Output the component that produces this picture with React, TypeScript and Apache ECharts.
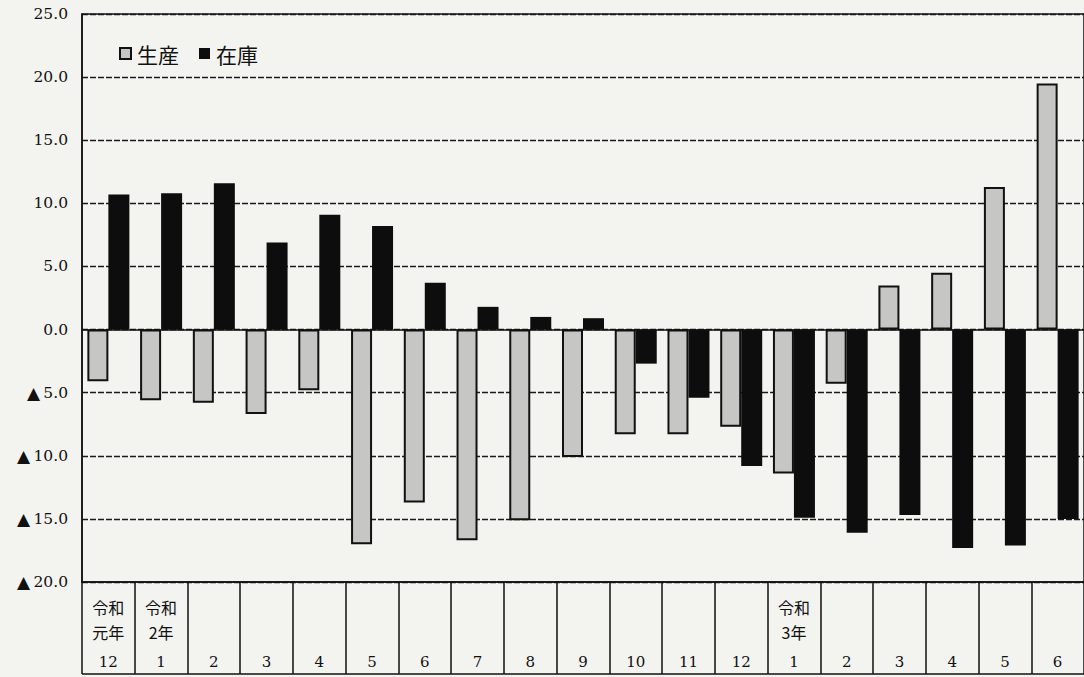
import React, { useEffect, useRef } from "react";
import * as echarts from "echarts";

const months = ["12", "1", "2", "3", "4", "5", "6", "7", "8", "9", "10", "11", "12", "1", "2", "3", "4", "5", "6"];
const eraLabels = ["令和\n元年", "令和\n2年", "", "", "", "", "", "", "", "", "", "", "", "令和\n3年", "", "", "", "", ""];
const seriesNames = ["生産", "在庫"];
const production = [-4.1, -5.6, -5.8, -6.7, -4.8, -17.0, -13.7, -16.7, -15.1, -10.1, -8.3, -8.3, -7.7, -11.4, -4.3, 3.5, 4.5, 11.3, 19.5];
const inventory = [10.7, 10.8, 11.6, 6.9, 9.1, 8.2, 3.7, 1.8, 1.0, 0.9, -2.7, -5.4, -10.8, -14.9, -16.1, -14.7, -17.3, -17.1, -15.0];
const yMin = -20;
const yMax = 25;
const yStep = 5;

const SERIF = "'DejaVu Serif', 'Liberation Serif', serif";
const CJK = "'Noto Sans CJK JP', 'Noto Sans', sans-serif";

export default function App() {
  const ref = useRef<HTMLDivElement>(null);

  useEffect(() => {
    if (!ref.current) return;
    const chart = echarts.init(ref.current, null, { renderer: "svg" });
    const option: any = {
      animation: false,
      backgroundColor: "#f3f3f0",
      legend: {
        left: 114,
        top: 38,
        icon: "rect",
        itemWidth: 11,
        itemHeight: 11,
        itemGap: 20,
        textStyle: { fontSize: 21, fontFamily: CJK, color: "#111", padding: [0, 0, 0, 1] },
        data: seriesNames,
      },
      grid: {
        left: 82,
        top: 14,
        width: 1003,
        height: 568,
        show: true,
        borderColor: "#111",
        borderWidth: 1.5,
        backgroundColor: "transparent",
      },
      xAxis: [
        {
          type: "category",
          data: months,
          position: "bottom",
          axisLine: { show: true, onZero: false, lineStyle: { color: "#111", width: 1.5 } },
          axisTick: { show: true, length: 92, lineStyle: { color: "#111", width: 1.5 } },
          axisLabel: { margin: 72, fontSize: 15, fontFamily: SERIF, color: "#111", interval: 0 },
          splitLine: { show: false },
        },
        {
          type: "category",
          data: eraLabels,
          position: "bottom",
          axisLine: { show: false, onZero: false },
          axisTick: { show: false },
          axisLabel: { margin: 12, fontSize: 16, lineHeight: 25, fontFamily: CJK, color: "#111", interval: 0 },
          splitLine: { show: false },
        },
      ],
      yAxis: {
        type: "value",
        min: yMin,
        max: yMax,
        interval: yStep,
        axisLine: { show: true, lineStyle: { color: "#111", width: 1.5 } },
        axisTick: { show: false },
        axisLabel: {
          margin: 14,
          color: "#111",
          formatter: (v: number) =>
            v < 0 ? `{t|▲} {v|${Math.abs(v).toFixed(1)}}` : `{v|${v.toFixed(1)}}`,
          rich: {
            t: { fontSize: 17, fontFamily: "'DejaVu Sans', sans-serif", color: "#111" },
            v: { fontSize: 15.5, fontFamily: SERIF, color: "#111" },
          },
        },
        splitLine: { show: true, lineStyle: { color: "#1a1a1a", type: [6, 2], width: 1.3 } },
      },
      series: [
        {
          name: seriesNames[0],
          type: "bar",
          data: production,
          barWidth: 21,
          barGap: "0%",
          itemStyle: { color: "#c6c6c4", borderColor: "#111", borderWidth: 2 },
          z: 3,
          markLine: {
            silent: true,
            symbol: ["none", "none"],
            label: { show: false },
            lineStyle: { color: "#111", type: "solid", width: 1.5 },
            data: [{ yAxis: 0 }],
          },
        },
        {
          name: seriesNames[1],
          type: "bar",
          data: inventory,
          barWidth: 21,
          barGap: "0%",
          itemStyle: { color: "#0d0d0d" },
          z: 2,
        },
      ],
      graphic: [
        {
          type: "line",
          shape: { x1: 82, y1: 674, x2: 1084, y2: 674 },
          style: { stroke: "#111", lineWidth: 1.5 },
        },
      ],
    };
    chart.setOption(option);
    return () => chart.dispose();
  }, []);

  return (
    <div
      ref={ref}
      style={{ position: "fixed", left: 0, top: 0, width: 1084, height: 677 }}
    />
  );
}
